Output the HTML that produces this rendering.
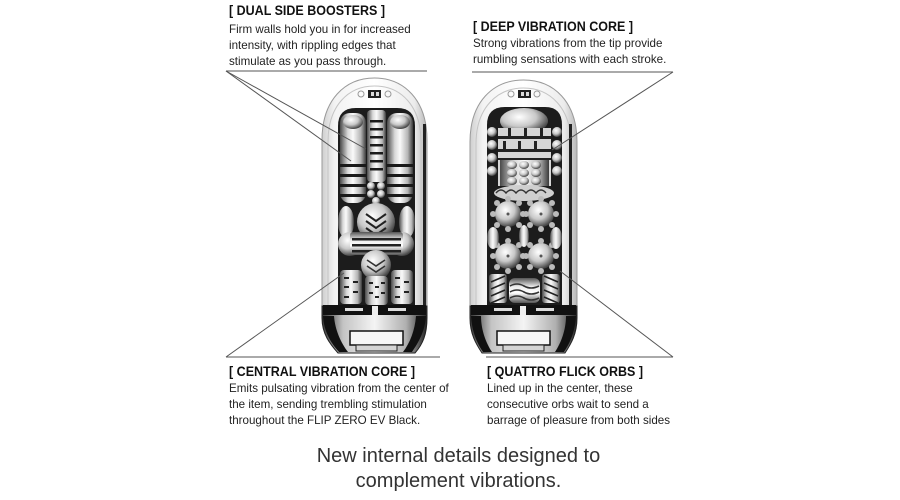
<!DOCTYPE html>
<html><head><meta charset="utf-8"><style>
html,body{margin:0;padding:0;background:#fff;}
svg{display:block;}
text{font-family:"Liberation Sans",Arial,sans-serif;}
.t{font-weight:bold;font-size:13.5px;fill:#111;}
.b{font-size:11.6px;fill:#222;}
.c{font-size:20px;fill:#333;}
</style></head><body>
<svg width="900" height="500" viewBox="0 0 900 500" xmlns="http://www.w3.org/2000/svg">
<defs>
<linearGradient id="cyl" x1="0" y1="0" x2="1" y2="0">
<stop offset="0" stop-color="#4a4a4a"/><stop offset="0.3" stop-color="#d8d8d8"/><stop offset="0.5" stop-color="#fafafa"/><stop offset="0.8" stop-color="#b5b5b5"/><stop offset="1" stop-color="#3a3a3a"/>
</linearGradient>
<linearGradient id="cylv" x1="0" y1="0" x2="0" y2="1">
<stop offset="0" stop-color="#555"/><stop offset="0.35" stop-color="#eee"/><stop offset="0.6" stop-color="#fff"/><stop offset="1" stop-color="#555"/>
</linearGradient>
<radialGradient id="sph" cx="0.4" cy="0.35" r="0.65">
<stop offset="0" stop-color="#ffffff"/><stop offset="0.55" stop-color="#c8c8c8"/><stop offset="1" stop-color="#444"/>
</radialGradient>
<linearGradient id="shell" x1="0" y1="0" x2="1" y2="0">
<stop offset="0" stop-color="#cfcfcf"/><stop offset="0.12" stop-color="#f3f3f3"/><stop offset="0.5" stop-color="#ffffff"/><stop offset="0.88" stop-color="#ececec"/><stop offset="1" stop-color="#b8b8b8"/>
</linearGradient>
<linearGradient id="cup" x1="0" y1="0" x2="1" y2="0">
<stop offset="0" stop-color="#333"/><stop offset="0.2" stop-color="#c4c4c4"/><stop offset="0.5" stop-color="#f4f4f4"/><stop offset="0.8" stop-color="#b0b0b0"/><stop offset="1" stop-color="#222"/>
</linearGradient>
</defs>

<!-- ============ TEXT ============ -->
<text class="t" x="229" y="15" textLength="156" lengthAdjust="spacingAndGlyphs">[ DUAL SIDE BOOSTERS ]</text>
<text class="b" x="229" y="33">Firm walls hold you in for increased</text>
<text class="b" x="229" y="49">intensity, with rippling edges that</text>
<text class="b" x="229" y="65">stimulate as you pass through.</text>

<text class="t" x="473" y="31" textLength="160" lengthAdjust="spacingAndGlyphs">[ DEEP VIBRATION CORE ]</text>
<text class="b" x="473" y="47">Strong vibrations from the tip provide</text>
<text class="b" x="473" y="63">rumbling sensations with each stroke.</text>

<text class="t" x="229" y="376" textLength="186" lengthAdjust="spacingAndGlyphs">[ CENTRAL VIBRATION CORE ]</text>
<text class="b" x="229" y="392">Emits pulsating vibration from the center of</text>
<text class="b" x="229" y="408">the item, sending trembling stimulation</text>
<text class="b" x="229" y="424">throughout the FLIP ZERO EV Black.</text>

<text class="t" x="487" y="376" textLength="156" lengthAdjust="spacingAndGlyphs">[ QUATTRO FLICK ORBS ]</text>
<text class="b" x="487" y="392">Lined up in the center, these</text>
<text class="b" x="487" y="408">consecutive orbs wait to send a</text>
<text class="b" x="487" y="424">barrage of pleasure from both sides</text>

<text class="c" x="458.5" y="462" text-anchor="middle">New internal details designed to</text>
<text class="c" x="458.5" y="487" text-anchor="middle">complement vibrations.</text>

<!-- ============ LEFT CAPSULE ============ -->
<g>
<path d="M322,308 L322,140 C322,100 345,78 374.5,78 C404,78 427,100 427,140 L427,308 Z" fill="url(#shell)" stroke="#9a9a9a" stroke-width="1"/>
<path d="M328,306 L328,142 C328,106 348,86 374.5,86 C401,86 421,106 421,142 L421,306" fill="none" stroke="#c4c4c4" stroke-width="1"/>
<rect x="423" y="124" width="3" height="184" fill="#222"/>
<circle cx="361" cy="94" r="3" fill="none" stroke="#999"/>
<circle cx="388" cy="94" r="3" fill="none" stroke="#999"/>
<rect x="368" y="90" width="13" height="8" fill="#222"/>
<rect x="371" y="92" width="3" height="4" fill="#ddd"/><rect x="376" y="92" width="3" height="4" fill="#ddd"/>
<path d="M338,305 L338,126 Q338,108 356,108 L397,108 Q415,108 415,126 L415,305 Z" fill="#1c1c1c"/>
<!-- top cylinders -->
<rect x="340" y="113" width="26" height="90" rx="10" fill="url(#cyl)"/>
<ellipse cx="353" cy="122" rx="10" ry="7" fill="url(#sph)"/>
<rect x="387" y="113" width="26" height="90" rx="10" fill="url(#cyl)"/>
<ellipse cx="400" cy="122" rx="10" ry="7" fill="url(#sph)"/>
<g fill="#1a1a1a">
<rect x="340" y="164" width="26" height="3"/><rect x="340" y="174" width="26" height="3"/><rect x="340" y="184" width="26" height="3"/><rect x="340" y="194" width="26" height="3"/>
<rect x="387" y="164" width="26" height="3"/><rect x="387" y="174" width="26" height="3"/><rect x="387" y="184" width="26" height="3"/><rect x="387" y="194" width="26" height="3"/>
</g>
<rect x="367" y="110" width="19" height="72" rx="4" fill="url(#cyl)"/>
<g fill="#1a1a1a">
<rect x="370" y="120" width="13" height="2.5"/><rect x="370" y="128" width="13" height="2.5"/><rect x="370" y="136" width="13" height="2.5"/><rect x="370" y="144" width="13" height="2.5"/><rect x="370" y="152" width="13" height="2.5"/><rect x="370" y="160" width="13" height="2.5"/><rect x="370" y="168" width="13" height="2.5"/>
</g>
<g fill="url(#sph)">
<circle cx="371" cy="186" r="4"/><circle cx="381" cy="186" r="4"/><circle cx="371" cy="194" r="4"/><circle cx="381" cy="194" r="4"/><circle cx="376" cy="201" r="4"/>
</g>
<!-- middle -->
<ellipse cx="346" cy="222" rx="8" ry="16" fill="url(#cyl)"/>
<ellipse cx="407" cy="222" rx="8" ry="16" fill="url(#cyl)"/>
<circle cx="376" cy="222" r="19" fill="url(#sph)"/>
<path d="M366,214 l10,7 l10,-7 M366,221 l10,7 l10,-7 M366,228 l10,7 l10,-7" fill="none" stroke="#222" stroke-width="2"/>
<circle cx="350" cy="244" r="12" fill="url(#sph)"/>
<circle cx="402" cy="244" r="12" fill="url(#sph)"/>
<rect x="350" y="232" width="53" height="23" rx="3" fill="url(#cylv)"/>
<g fill="#222"><rect x="352" y="238" width="49" height="2.5"/><rect x="352" y="244" width="49" height="2.5"/><rect x="352" y="250" width="49" height="2.5"/></g>
<!-- lower -->
<circle cx="376" cy="265" r="15" fill="url(#sph)"/>
<path d="M367,260 l9,6 l9,-6 M367,266 l9,6 l9,-6" fill="none" stroke="#333" stroke-width="1.6"/>
<rect x="340" y="270" width="22" height="34" rx="4" fill="url(#cyl)"/>
<rect x="365" y="276" width="23" height="29" rx="4" fill="url(#cyl)"/>
<rect x="391" y="270" width="22" height="34" rx="4" fill="url(#cyl)"/>
<g fill="#222">
<rect x="344" y="277" width="5" height="2"/><rect x="353" y="281" width="5" height="2"/><rect x="344" y="286" width="5" height="2"/><rect x="353" y="291" width="5" height="2"/><rect x="344" y="296" width="5" height="2"/>
<rect x="369" y="282" width="4" height="2"/><rect x="375" y="286" width="4" height="2"/><rect x="381" y="282" width="4" height="2"/><rect x="369" y="292" width="4" height="2"/><rect x="375" y="296" width="4" height="2"/><rect x="381" y="292" width="4" height="2"/>
<rect x="395" y="277" width="5" height="2"/><rect x="404" y="281" width="5" height="2"/><rect x="395" y="286" width="5" height="2"/><rect x="404" y="291" width="5" height="2"/><rect x="395" y="296" width="5" height="2"/>
</g>
<!-- cup -->
<path d="M322,306 L322,318 C322,334 330,344 338,353 L415,353 C423,344 427,334 427,318 L427,306 Z" fill="url(#cup)" stroke="#222" stroke-width="1"/>
<rect x="323" y="305" width="103" height="10" fill="#111"/>
<rect x="372" y="306" width="6" height="9" fill="#eee"/>
<rect x="345" y="308" width="18" height="3" fill="#ddd"/><rect x="388" y="308" width="18" height="3" fill="#ddd"/>
<path d="M323,316 C324,332 331,343 339,352 L348,352 C341,343 335,330 334,316 Z" fill="#111"/>
<path d="M426,316 C425,332 418,343 412,352 L403,352 C410,343 415,330 416,316 Z" fill="#111"/>
<rect x="350" y="331" width="53" height="14" fill="#f6f6f6" stroke="#111" stroke-width="1.5"/>
<rect x="356" y="345" width="41" height="6" fill="#d4d4d4" stroke="#222" stroke-width="1"/>
</g>

<!-- ============ RIGHT CAPSULE ============ -->
<g>
<path d="M470,308 L470,142 C470,102 493,80 523.5,80 C554,80 577,102 577,142 L577,308 Z" fill="url(#shell)" stroke="#9a9a9a" stroke-width="1"/>
<path d="M476,306 L476,144 C476,108 497,88 523.5,88 C550,88 571,108 571,144 L571,306" fill="none" stroke="#c4c4c4" stroke-width="1"/>
<rect x="569" y="124" width="3" height="184" fill="#222"/>
<circle cx="511" cy="94" r="3" fill="none" stroke="#999"/>
<circle cx="537" cy="94" r="3" fill="none" stroke="#999"/>
<rect x="518" y="90" width="13" height="8" fill="#222"/>
<rect x="521" y="92" width="3" height="4" fill="#ddd"/><rect x="526" y="92" width="3" height="4" fill="#ddd"/>
<path d="M487,305 L487,125 Q487,107 505,107 L545,107 Q562,107 562,125 L562,305 Z" fill="#1c1c1c"/>
<ellipse cx="524" cy="121" rx="24" ry="13" fill="url(#sph)"/>
<g fill="url(#sph)">
<circle cx="492" cy="132" r="5"/><circle cx="492" cy="145" r="5"/><circle cx="492" cy="158" r="5"/><circle cx="492" cy="171" r="5"/>
<circle cx="557" cy="132" r="5"/><circle cx="557" cy="145" r="5"/><circle cx="557" cy="158" r="5"/><circle cx="557" cy="171" r="5"/>
</g>
<rect x="498" y="128" width="53" height="58" fill="#d6d6d6"/>
<g fill="#222">
<rect x="498" y="136" width="53" height="3"/><rect x="498" y="149" width="53" height="3"/>
<rect x="508" y="128" width="3" height="8"/><rect x="524" y="128" width="3" height="8"/><rect x="540" y="128" width="3" height="8"/>
<rect x="503" y="141" width="3" height="8"/><rect x="518" y="141" width="3" height="8"/><rect x="534" y="141" width="3" height="8"/>
<rect x="498" y="158" width="53" height="2"/>
</g>
<rect x="500" y="160" width="49" height="26" fill="url(#cyl)"/>
<g fill="url(#sph)">
<ellipse cx="512" cy="165" rx="5" ry="4"/><ellipse cx="524" cy="165" rx="5" ry="4"/><ellipse cx="536" cy="165" rx="5" ry="4"/>
<ellipse cx="512" cy="173" rx="5" ry="4"/><ellipse cx="524" cy="173" rx="5" ry="4"/><ellipse cx="536" cy="173" rx="5" ry="4"/>
<ellipse cx="512" cy="181" rx="5" ry="4"/><ellipse cx="524" cy="181" rx="5" ry="4"/><ellipse cx="536" cy="181" rx="5" ry="4"/>
</g>
<ellipse cx="524" cy="193" rx="30" ry="8" fill="#cfcfcf"/>
<path d="M496,193 q5,-6 10,0 q5,-6 10,0 q5,-6 10,0 q5,-6 10,0 q5,-6 10,0" fill="none" stroke="#333" stroke-width="1.4"/>
<!-- orbs -->
<g fill="url(#sph)">
<circle cx="508" cy="214" r="13"/><circle cx="541" cy="214" r="13"/><circle cx="508" cy="256" r="13"/><circle cx="541" cy="256" r="13"/>
</g>
<g fill="#bbb">
<circle cx="508" cy="199" r="3"/><circle cx="519" cy="203" r="3"/><circle cx="523" cy="214" r="3"/><circle cx="519" cy="225" r="3"/><circle cx="508" cy="229" r="3"/><circle cx="497" cy="225" r="3"/><circle cx="493" cy="214" r="3"/><circle cx="497" cy="203" r="3"/>
<circle cx="541" cy="199" r="3"/><circle cx="552" cy="203" r="3"/><circle cx="556" cy="214" r="3"/><circle cx="552" cy="225" r="3"/><circle cx="541" cy="229" r="3"/><circle cx="530" cy="225" r="3"/><circle cx="526" cy="214" r="3"/><circle cx="530" cy="203" r="3"/>
<circle cx="508" cy="241" r="3"/><circle cx="519" cy="245" r="3"/><circle cx="523" cy="256" r="3"/><circle cx="519" cy="267" r="3"/><circle cx="508" cy="271" r="3"/><circle cx="497" cy="267" r="3"/><circle cx="493" cy="256" r="3"/><circle cx="497" cy="245" r="3"/>
<circle cx="541" cy="241" r="3"/><circle cx="552" cy="245" r="3"/><circle cx="556" cy="256" r="3"/><circle cx="552" cy="267" r="3"/><circle cx="541" cy="271" r="3"/><circle cx="530" cy="267" r="3"/><circle cx="526" cy="256" r="3"/><circle cx="530" cy="245" r="3"/>
</g>
<g fill="#555">
<circle cx="508" cy="214" r="1.5"/><circle cx="541" cy="214" r="1.5"/><circle cx="508" cy="256" r="1.5"/><circle cx="541" cy="256" r="1.5"/>
</g>
<ellipse cx="524" cy="236" rx="5" ry="11" fill="url(#cyl)"/>
<ellipse cx="493" cy="238" rx="6" ry="11" fill="url(#cyl)"/>
<ellipse cx="556" cy="238" rx="6" ry="11" fill="url(#cyl)"/>
<!-- bottom row -->
<rect x="489" y="274" width="18" height="29" rx="3" fill="url(#cyl)"/>
<rect x="509" y="278" width="31" height="25" rx="6" fill="url(#cylv)"/>
<rect x="542" y="274" width="18" height="29" rx="3" fill="url(#cyl)"/>
<path d="M491,282 l14,-6 M491,289 l14,-6 M491,296 l14,-6 M491,303 l14,-6 M544,276 l14,6 M544,283 l14,6 M544,290 l14,6 M544,297 l14,6" stroke="#222" stroke-width="1.6"/>
<path d="M510,286 q7,-4 14,0 q7,4 15,0 M510,292 q7,-4 14,0 q7,4 15,0 M510,298 q7,-4 14,0 q7,4 15,0" fill="none" stroke="#333" stroke-width="1.6"/>
<!-- cup -->
<path d="M470,306 L470,318 C470,334 476,344 482,353 L565,353 C571,344 577,334 577,318 L577,306 Z" fill="url(#cup)" stroke="#222" stroke-width="1"/>
<rect x="471" y="305" width="105" height="10" fill="#111"/>
<rect x="520" y="306" width="6" height="9" fill="#eee"/>
<rect x="494" y="308" width="18" height="3" fill="#ddd"/><rect x="536" y="308" width="18" height="3" fill="#ddd"/>
<path d="M471,316 C472,332 477,343 483,352 L492,352 C486,343 481,330 481,316 Z" fill="#111"/>
<path d="M576,316 C575,332 570,343 564,352 L555,352 C561,343 566,330 566,316 Z" fill="#111"/>
<rect x="497" y="331" width="53" height="14" fill="#f6f6f6" stroke="#111" stroke-width="1.5"/>
<rect x="503" y="345" width="41" height="6" fill="#d4d4d4" stroke="#222" stroke-width="1"/>
</g>

<!-- ============ LEADER LINES ============ -->
<g stroke="#555" stroke-width="1" fill="none">
<line x1="226" y1="71" x2="427" y2="71"/>
<line x1="226" y1="71" x2="366" y2="149"/>
<line x1="226" y1="71" x2="351" y2="161"/>
<line x1="472" y1="72" x2="673" y2="72"/>
<line x1="673" y1="72" x2="552" y2="150"/>
<line x1="226" y1="357" x2="440" y2="357"/>
<line x1="226" y1="357" x2="344" y2="273"/>
<line x1="486" y1="357" x2="673" y2="357"/>
<line x1="673" y1="357" x2="560" y2="271"/>
</g>
</svg>
</body></html>
